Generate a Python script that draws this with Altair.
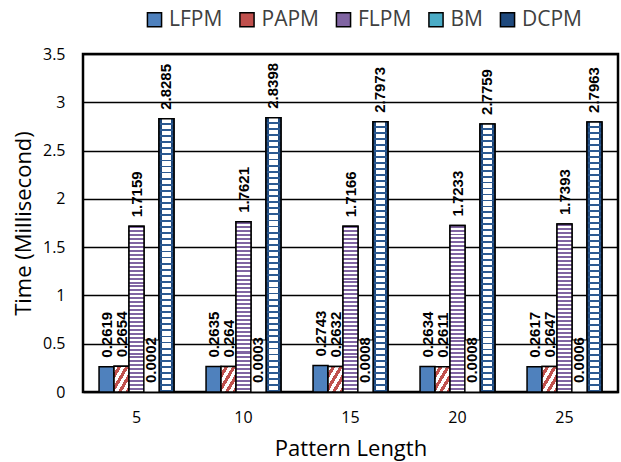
import altair as alt
import pandas as pd

lengths = [5, 10, 15, 20, 25]
methods = ["LFPM", "PAPM", "FLPM", "BM", "DCPM"]
lfpm = [0.2619, 0.2635, 0.2743, 0.2634, 0.2617]
papm = [0.2654, 0.264, 0.2632, 0.2611, 0.2647]
flpm = [1.7159, 1.7621, 1.7166, 1.7233, 1.7393]
bm = [0.0002, 0.0003, 0.0008, 0.0008, 0.0006]
dcpm = [2.8285, 2.8398, 2.7973, 2.7759, 2.7963]
colors = ["#4F81BD", "#C0504D", "#8064A2", "#4BACC6", "#1F497D"]

series = {"LFPM": lfpm, "PAPM": papm, "FLPM": flpm, "BM": bm, "DCPM": dcpm}
rows = []
for m in methods:
    for L, v in zip(lengths, series[m]):
        rows.append({"Length": str(L), "Method": m, "Time": v, "Label": str(v)})
df = pd.DataFrame(rows)

W, H = 535, 338
FONT = "Open Sans"


def stripes(c1, c2, n, frac, x1=0, y1=0, x2=0, y2=1):
    stops = []
    for i in range(n):
        a = i / n
        b = (i + frac) / n
        c = (i + 1) / n
        stops += [
            alt.GradientStop(offset=a, color=c1),
            alt.GradientStop(offset=b, color=c1),
            alt.GradientStop(offset=b, color=c2),
            alt.GradientStop(offset=c, color=c2),
        ]
    return alt.LinearGradient(gradient="linear", stops=stops, x1=x1, y1=y1, x2=x2, y2=y2)


x_enc = alt.X("Length:N", sort=[str(l) for l in lengths],
              scale=alt.Scale(paddingInner=0.3, paddingOuter=0.15),
              axis=alt.Axis(title="Pattern Length", labelAngle=0, ticks=False, grid=False,
                            labelPadding=17, titlePadding=13, domain=False))
xo_enc = alt.XOffset("Method:N", sort=methods, scale=alt.Scale(domain=methods))
y_enc = alt.Y("Time:Q", scale=alt.Scale(domain=[0, 3.5], nice=False),
              axis=alt.Axis(title="Time (Millisecond)", values=[0, 0.5, 1, 1.5, 2, 2.5, 3, 3.5],
                            format="~g", ticks=False, labelPadding=18, domain=False,
                            grid=True, gridColor="black", gridWidth=1.3, gridOpacity=1,
                            titleX=-60, titleY=H / 2, titleAngle=270, titleBaseline="middle",
                            titleAlign="center"))

base = alt.Chart(df)

bars = base.mark_bar(stroke="black", strokeWidth=1.5).encode(
    x=x_enc, xOffset=xo_enc, y=y_enc,
    fill=alt.Fill("Method:N", sort=methods,
                  scale=alt.Scale(domain=methods, range=colors),
                  legend=alt.Legend(title=None, orient="none", legendX=61, legendY=-45,
                                    direction="horizontal", symbolType="square",
                                    symbolSize=200, symbolStrokeColor="black",
                                    symbolStrokeWidth=1.5, labelFont=FONT,
                                    labelFontSize=21, labelColor="#404040",
                                    columnPadding=13.5, labelOffset=4, symbolOpacity=1)),
)

papm_layer = base.transform_filter(alt.datum.Method == "PAPM").mark_bar(
    stroke="black", strokeWidth=1.5,
    fill=stripes("#ffffff", "#C0504D", 4, 0.5, 0, 0, 1, 1)).encode(
    x=x_enc, xOffset=xo_enc, y=y_enc)

flpm_layer = base.transform_filter(alt.datum.Method == "FLPM").mark_bar(
    stroke="black", strokeWidth=1.5,
    fill=stripes("#8064A2", "#ffffff", 42, 0.5)).encode(
    x=x_enc, xOffset=xo_enc, y=y_enc)

dcpm_base = base.transform_filter(alt.datum.Method == "DCPM").mark_bar(
    strokeWidth=0,
    fill=alt.LinearGradient(gradient="linear", x1=0, y1=0, x2=1, y2=0, stops=[
        alt.GradientStop(offset=0, color="#1F497D"),
        alt.GradientStop(offset=0.22, color="#1F497D"),
        alt.GradientStop(offset=0.22, color="#ffffff"),
        alt.GradientStop(offset=0.78, color="#ffffff"),
        alt.GradientStop(offset=0.78, color="#1F497D"),
        alt.GradientStop(offset=1, color="#1F497D"),
    ])).encode(x=x_enc, xOffset=xo_enc, y=y_enc)

dcpm_over = base.transform_filter(alt.datum.Method == "DCPM").mark_bar(
    stroke="black", strokeWidth=1.5,
    fill=stripes("rgba(31,73,125,0)", "#2c5a92", 45, 0.7)).encode(
    x=x_enc, xOffset=xo_enc, y=y_enc)

bm_box = base.transform_filter(alt.datum.Method == "BM").mark_bar(
    fill="white", stroke="black", strokeWidth=1.2).encode(
    x=x_enc, xOffset=xo_enc, y=alt.value(H), y2=alt.value(H - 52))

labels = base.mark_text(angle=270, align="left", baseline="middle", dx=9,
                        font="Liberation Sans", fontWeight="bold", fontSize=15,
                        color="black").encode(
    x=x_enc, xOffset=xo_enc, y=y_enc, text="Label:N")

chart = alt.layer(bars, papm_layer, flpm_layer, dcpm_base, dcpm_over, bm_box, labels).properties(
    width=W, height=H,
    background="white",
    autosize=alt.AutoSizeParams(type="none"),
    padding={"left": 83, "top": 54, "right": 3, "bottom": 70},
).configure_view(stroke="black", strokeWidth=2.5).configure_axis(
    labelFont=FONT, labelFontSize=16, labelColor="black",
    titleFont=FONT, titleFontSize=22, titleFontWeight="normal", titleColor="black",
)

chart.save("out.html", embed_options={"renderer": "svg", "actions": False})
